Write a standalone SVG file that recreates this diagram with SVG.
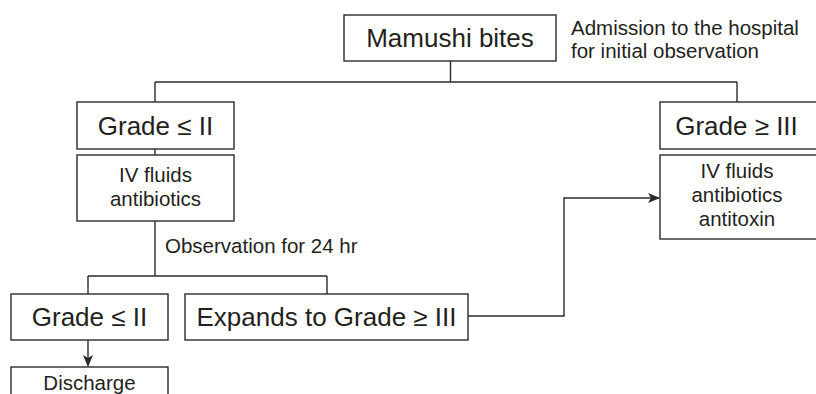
<svg xmlns="http://www.w3.org/2000/svg" width="816" height="394" viewBox="0 0 816 394">
  <style>
    .box { fill: #ffffff; stroke: #2b2b2b; stroke-width: 1.4; }
    .line { fill: none; stroke: #2b2b2b; stroke-width: 1.4; }
    text { font-family: "Liberation Sans", Arial, sans-serif; fill: #231f20; }
    .big { font-size: 26px; text-anchor: middle; }
    .small { font-size: 20.5px; text-anchor: middle; }
    .note { font-size: 20.5px; }
  </style>
  <defs>
    <marker id="arrow" markerWidth="12" markerHeight="10" refX="11" refY="5" orient="auto" markerUnits="userSpaceOnUse">
      <path d="M0,0 L12,5 L0,10 L3,5 Z" fill="#2b2b2b"/>
    </marker>
  </defs>
  <rect width="816" height="394" fill="#ffffff"/>

  <!-- connectors -->
  <g id="connectors">
    <path class="line" d="M450.5,61 V82 M155,82 H737 M155,82 V102 M737,82 V102"/>
    <path class="line" d="M155,149 V155"/>
    <path class="line" d="M155,221 V276 M88,276 H327 M88,276 V294 M327,276 V294"/>
    <path class="line" d="M88,340 V366" marker-end="url(#arrow)"/>
    <path class="line" d="M468,316 H564 V198 H659" marker-end="url(#arrow)"/>
  </g>

  <g id="bites">
    <rect class="box" x="344" y="15" width="212" height="46"/>
    <text class="big" x="450" y="47">Mamushi bites</text>
  </g>
  <g id="admission-note">
    <text class="note" x="571" y="35">Admission to the hospital</text>
    <text class="note" x="571" y="58">for initial observation</text>
  </g>

  <g id="grade-low">
    <rect class="box" x="77" y="102" width="157" height="47"/>
    <text class="big" x="155.5" y="135">Grade ≤ II</text>
  </g>
  <g id="treat-low">
    <rect class="box" x="77" y="155" width="157" height="66"/>
    <text class="small" x="155.5" y="182">IV fluids</text>
    <text class="small" x="155.5" y="206">antibiotics</text>
  </g>

  <g id="observation-note">
    <text class="note" x="165" y="253">Observation for 24 hr</text>
  </g>

  <g id="grade-low-after">
    <rect class="box" x="11" y="294" width="157" height="46"/>
    <text class="big" x="89.5" y="326">Grade ≤ II</text>
  </g>
  <g id="expands">
    <rect class="box" x="185" y="294" width="283" height="46"/>
    <text class="big" x="326.5" y="326">Expands to Grade ≥ III</text>
  </g>
  <g id="discharge">
    <rect class="box" x="11" y="367" width="157" height="40"/>
    <text class="small" x="89.5" y="390">Discharge</text>
  </g>

  <g id="grade-high">
    <rect class="box" x="660" y="102" width="160" height="47"/>
    <text class="big" x="736.5" y="135">Grade ≥ III</text>
  </g>
  <g id="treat-high">
    <rect class="box" x="660" y="155" width="160" height="84"/>
    <text class="small" x="737" y="178">IV fluids</text>
    <text class="small" x="737" y="202">antibiotics</text>
    <text class="small" x="737" y="226">antitoxin</text>
  </g>
</svg>
